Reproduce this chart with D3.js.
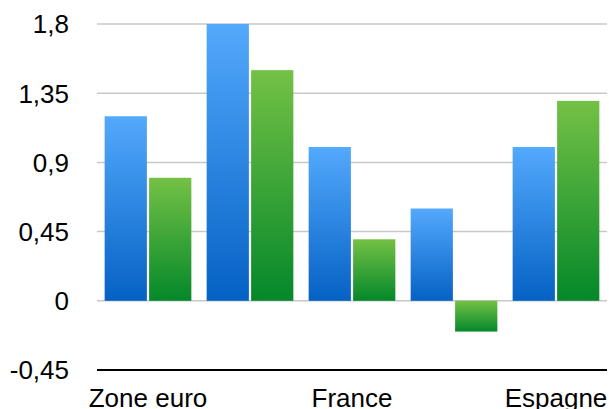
<!DOCTYPE html>
<html>
<head>
<meta charset="utf-8">
<script src="https://cdn.jsdelivr.net/npm/d3@7/dist/d3.min.js"></script>
<style>
  html, body { margin: 0; padding: 0; background: #fff; }
  svg { display: block; }
  text { font-family: "Liberation Sans", Arial, Helvetica, sans-serif; fill: #000; }
</style>
</head>
<body>
<svg id="chart" width="609" height="409"></svg>
<script>
// ---- data ----
const categories = ["Zone euro", "Allemagne", "France", "Italie", "Espagne"];
const shownCategoryLabels = ["Zone euro", "", "France", "", "Espagne"];
const seriesNames = ["Série 1", "Série 2"];
const series1 = [1.2, 1.8, 1.0, 0.6, 1.0];
const series2 = [0.8, 1.5, 0.4, -0.2, 1.3];
const tickValues = [-0.45, 0, 0.45, 0.9, 1.35, 1.8];
const tickLabels = ["-0,45", "0", "0,45", "0,9", "1,35", "1,8"];

(function () {
const svg = d3.select("#chart");
const mLeft = 97, mRight = 607, mTop = 24, mBottom = 370;

const x0 = d3.scaleBand().domain(categories).range([mLeft, mRight])
  .paddingInner(0.15).paddingOuter(0.075);
const x1 = d3.scaleBand().domain(seriesNames).range([0, x0.bandwidth()]).paddingInner(0.05);
const y = d3.scaleLinear().domain([-0.45, 1.8]).range([mBottom, mTop]);

// gradients
const defs = svg.append("defs");
const grads = [
  { id: "gBlue", c1: "#53a9fc", c2: "#0561c4" },
  { id: "gGreen", c1: "#74c145", c2: "#04882a" }
];
grads.forEach(g => {
  const lg = defs.append("linearGradient").attr("id", g.id)
    .attr("x1", 0).attr("y1", 0).attr("x2", 0).attr("y2", 1);
  lg.append("stop").attr("offset", "0%").attr("stop-color", g.c1);
  lg.append("stop").attr("offset", "100%").attr("stop-color", g.c2);
});

// gridlines (excluding the bottom axis)
svg.append("g").selectAll("line")
  .data(tickValues.filter(v => v !== -0.45))
  .join("line")
  .attr("x1", mLeft).attr("x2", mRight)
  .attr("y1", d => y(d)).attr("y2", d => y(d))
  .attr("stroke", "#c8c8c8").attr("stroke-width", 1.5);

// bars
const data = categories.map((c, i) => ({ c, vals: [series1[i], series2[i]] }));
const groups = svg.append("g").selectAll("g").data(data).join("g")
  .attr("transform", d => `translate(${x0(d.c)},0)`);
groups.selectAll("rect")
  .data(d => d.vals.map((v, j) => ({ v, s: seriesNames[j], j })))
  .join("rect")
  .attr("x", d => x1(d.s))
  .attr("width", x1.bandwidth())
  .attr("y", d => Math.min(y(d.v), y(0)))
  .attr("height", d => Math.abs(y(d.v) - y(0)))
  .attr("fill", d => `url(#${grads[d.j].id})`);

// bottom axis line
svg.append("line")
  .attr("x1", mLeft).attr("x2", mRight)
  .attr("y1", y(-0.45)).attr("y2", y(-0.45))
  .attr("stroke", "#000").attr("stroke-width", 2);

// y tick labels
svg.append("g").selectAll("text")
  .data(tickValues)
  .join("text")
  .attr("x", 69)
  .attr("y", d => y(d))
  .attr("dy", "0.36em")
  .attr("text-anchor", "end")
  .attr("font-size", 26)
  .text((d, i) => tickLabels[i]);

// x labels
svg.append("g").selectAll("text")
  .data(categories)
  .join("text")
  .attr("x", d => x0(d) + x0.bandwidth() / 2)
  .attr("y", 407)
  .attr("text-anchor", "middle")
  .attr("font-size", 26)
  .text((d, i) => shownCategoryLabels[i]);
})();
</script>
</body>
</html>
